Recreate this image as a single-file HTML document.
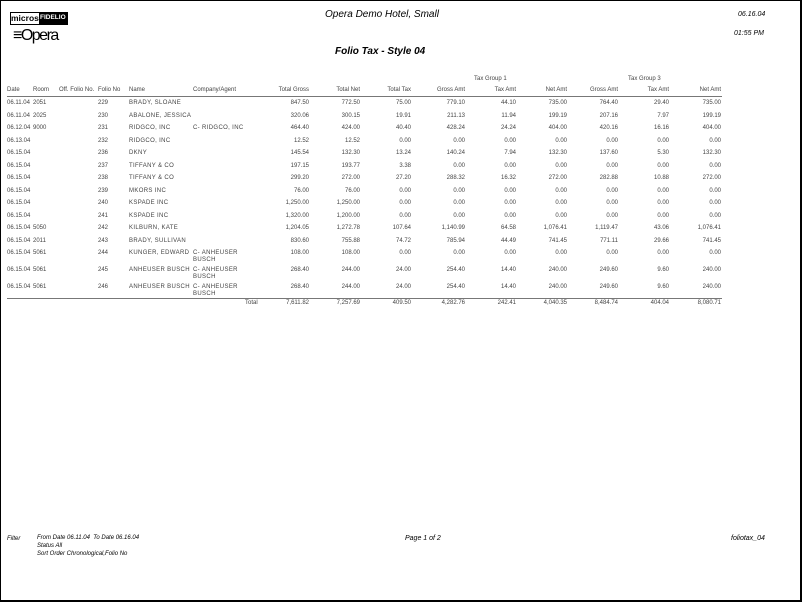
<!DOCTYPE html>
<html><head><meta charset="utf-8"><style>
html,body{margin:0;padding:0;}
body{width:802px;height:602px;position:relative;background:#fff;overflow:hidden;font-family:"Liberation Sans",Arial,sans-serif;}
#frame{position:absolute;left:0;top:0;width:799px;height:599px;border-left:1px solid #000;border-top:1px solid #000;border-right:2px solid #000;border-bottom:2px solid #000;}
.t{position:absolute;white-space:nowrap;font-size:6px;color:#444;line-height:7px;}
.w{letter-spacing:0.35px;}
.r{text-align:right;}
.i{font-style:italic;color:#000;}
.hl{position:absolute;height:1px;background:#777;left:7px;width:715px;}
</style></head><body>
<div id="frame"></div>
<div style="position:absolute;left:10px;top:12px;width:56px;height:11px;border:1px solid #000;background:#fff;"></div>
<div class="t" style="left:11px;top:13px;font-size:8.5px;line-height:10px;color:#000;font-weight:bold;">micros</div>
<div style="position:absolute;left:39px;top:12px;width:28px;height:12px;background:#000;"></div>
<div class="t" style="left:40px;top:14px;font-size:6.5px;line-height:8px;color:#fff;font-weight:bold;">FIDELIO</div>
<div class="t" style="left:13px;top:28px;font-size:16px;line-height:16px;color:#000;letter-spacing:-1.5px;">&#8801;Opera</div>
<div class="t i" style="left:325px;top:9px;font-size:10px;line-height:12px;">Opera Demo Hotel, Small</div>
<div class="t i" style="left:335px;top:46px;font-size:10px;line-height:12px;font-weight:bold;">Folio Tax - Style 04</div>
<div class="t i" style="left:738px;top:11px;font-size:7px;">06.16.04</div>
<div class="t i" style="left:734px;top:30px;font-size:7px;">01:55 PM</div>
<div class="t i" style="left:7px;top:536px;font-size:6px;">Filter</div>
<div class="t i" style="left:37px;top:535px;font-size:6px;">From Date 06.11.04&nbsp; To Date 06.16.04</div>
<div class="t i" style="left:37px;top:543px;font-size:6px;">Status All</div>
<div class="t i" style="left:37px;top:551px;font-size:6px;">Sort Order Chronological,Folio No</div>
<div class="t i" style="left:405px;top:535px;font-size:7px;">Page 1 of 2</div>
<div class="t i" style="left:731px;top:535px;font-size:7px;">foliotax_04</div>
<div class="t" style="left:474px;top:76px;">Tax Group 1</div>
<div class="t" style="left:628px;top:76px;">Tax Group 3</div>
<div class="hl" style="top:96px;"></div>
<div class="hl" style="top:298px;"></div>
<div id="c"></div>
<script>
var c=document.getElementById('c'),h='';
function L(x,y,s,w){h+='<div class="t'+(w?' w':'')+'" style="left:'+x+'px;top:'+y+'px">'+s+'</div>';}
function R(x,y,s){h+='<div class="t r" style="left:'+(x-60)+'px;width:60px;top:'+y+'px">'+s+'</div>';}
var rx=[309,360,411,465,516,567,618,669,721];
var hy=87;
L(7,hy,'Date');L(33,hy,'Room');L(59,hy,'Off. Folio No.');L(98,hy,'Folio No');L(129,hy,'Name');L(193,hy,'Company/Agent');
['Total Gross','Total Net','Total Tax','Gross Amt','Tax Amt','Net Amt','Gross Amt','Tax Amt','Net Amt'].forEach(function(s,i){R(rx[i],hy,s);});
var rows=[
['06.11.04','2051','229','BRADY, SLOANE','','847.50','772.50','75.00','779.10','44.10','735.00','764.40','29.40','735.00'],
['06.11.04','2025','230','ABALONE, JESSICA','','320.06','300.15','19.91','211.13','11.94','199.19','207.16','7.97','199.19'],
['06.12.04','9000','231','RIDGCO, INC','C- RIDGCO, INC','464.40','424.00','40.40','428.24','24.24','404.00','420.16','16.16','404.00'],
['06.13.04','','232','RIDGCO, INC','','12.52','12.52','0.00','0.00','0.00','0.00','0.00','0.00','0.00'],
['06.15.04','','236','DKNY','','145.54','132.30','13.24','140.24','7.94','132.30','137.60','5.30','132.30'],
['06.15.04','','237','TIFFANY &amp; CO','','197.15','193.77','3.38','0.00','0.00','0.00','0.00','0.00','0.00'],
['06.15.04','','238','TIFFANY &amp; CO','','299.20','272.00','27.20','288.32','16.32','272.00','282.88','10.88','272.00'],
['06.15.04','','239','MKORS INC','','76.00','76.00','0.00','0.00','0.00','0.00','0.00','0.00','0.00'],
['06.15.04','','240','KSPADE INC','','1,250.00','1,250.00','0.00','0.00','0.00','0.00','0.00','0.00','0.00'],
['06.15.04','','241','KSPADE INC','','1,320.00','1,200.00','0.00','0.00','0.00','0.00','0.00','0.00','0.00'],
['06.15.04','5050','242','KILBURN, KATE','','1,204.05','1,272.78','107.64','1,140.99','64.58','1,076.41','1,119.47','43.06','1,076.41'],
['06.15.04','2011','243','BRADY, SULLIVAN','','830.60','755.88','74.72','785.94','44.49','741.45','771.11','29.66','741.45'],
['06.15.04','5061','244','KUNGER, EDWARD','C- ANHEUSER<br>BUSCH','108.00','108.00','0.00','0.00','0.00','0.00','0.00','0.00','0.00'],
['06.15.04','5061','245','ANHEUSER BUSCH','C- ANHEUSER<br>BUSCH','268.40','244.00','24.00','254.40','14.40','240.00','249.60','9.60','240.00'],
['06.15.04','5061','246','ANHEUSER BUSCH','C- ANHEUSER<br>BUSCH','268.40','244.00','24.00','254.40','14.40','240.00','249.60','9.60','240.00']];
var ys=[100,112.5,125,137.5,150,162.5,175,187.5,200,212.5,225,237.5,250,267,284];
rows.forEach(function(r,k){var y=ys[k];
L(7,y,r[0]);L(33,y,r[1]);L(98,y,r[2]);L(129,y,r[3],1);
if(r[4])L(193,y,r[4],1);
for(var i=0;i<9;i++)R(rx[i],y,r[5+i]);});
var ty=300;L(245,ty,'Total');
['7,611.82','7,257.69','409.50','4,282.76','242.41','4,040.35','8,484.74','404.04','8,080.71'].forEach(function(s,i){R(rx[i],ty,s);});
c.innerHTML=h;
</script>
</body></html>
